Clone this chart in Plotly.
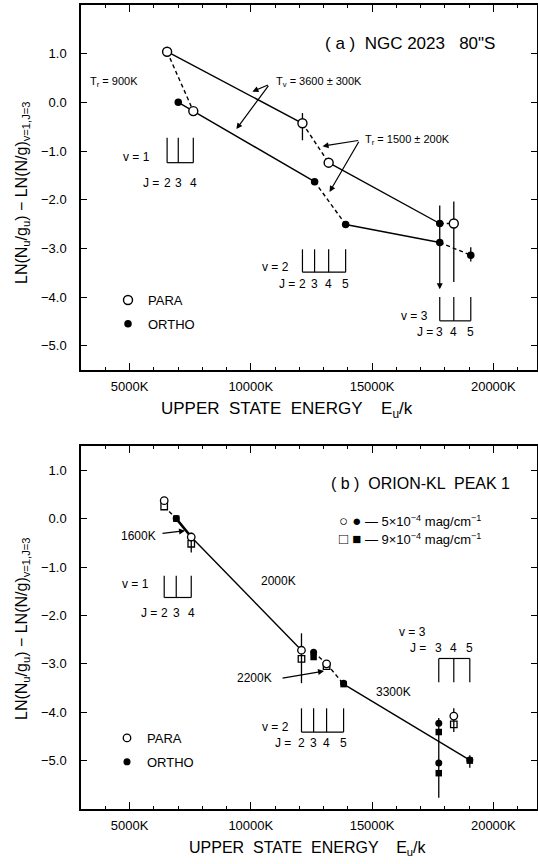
import plotly.graph_objects as go

FONT = "Liberation Sans"

# ---------------- (a) NGC 2023 80"S ----------------
para_a_E = [6550, 7630, 12130, 13210, 18370]
para_a_y = [1.04, -0.18, -0.43, -1.24, -2.49]
para_a_up = [0, 0, 0.21, 0, 0.45]
para_a_dn = [0, 0, 0.35, 0, 1.20]

ortho_a_E = [7010, 12630, 13910, 17790, 17790, 19070]
ortho_a_y = [0.00, -1.63, -2.51, -2.49, -2.88, -3.14]
ortho_a_up = [0, 0.05, 0.05, 0.37, 0, 0.16]
ortho_a_dn = [0, 0.05, 0.05, 0.39, 0, 0.13]
ortho_a_limit = -3.84          # lower end of the v=3, J=3 upper limit

# ---------------- (b) Orion-KL Peak 1 ----------------
para_b_E = [6430, 7545, 12090, 13125, 18370]
para_b_y5 = [0.37, -0.38, -2.72, -3.00, -4.08]    # 5e-4 mag/cm^-1
para_b_y9 = [0.25, -0.52, -2.90, -3.05, -4.25]    # 9e-4 mag/cm^-1
para_b_up = [0, 0.09, 0.35, 0, 0.16]
para_b_dn = [0, 0.32, 0.68, 0, 0.33]

ortho_b_E = [6926, 12590, 13826, 17750, 17750, 19030]
ortho_b_y5 = [0.00, -2.76, -3.40, -4.23, -5.05, -4.99]
ortho_b_y9 = [0.00, -2.86, -3.42, -4.41, -5.26, -5.00]
ortho_b_up = [0, 0, 0, 0.11, 0, 0.10]
ortho_b_dn = [0, 0, 0, 1.54, 0, 0.16]

J_v1 = ["2", "3", "4"]
J_v2 = ["2", "3", "4", "5"]
J_v3 = ["3", "4", "5"]

y_ticks = [-5, -4, -3, -2, -1, 0, 1]

pts = {
    "pa": (para_a_E, para_a_y), "oa": (ortho_a_E, ortho_a_y),
    "p5": (para_b_E, para_b_y5), "p9": (para_b_E, para_b_y9),
    "o5": (ortho_b_E, ortho_b_y5), "o9": (ortho_b_E, ortho_b_y9),
}

# connections drawn between measured points
solid_a = [(("pa", 0), ("pa", 2)), (("oa", 0), ("oa", 1)),
           (("pa", 3), ("oa", 3)), (("oa", 2), ("oa", 4))]
dashed_a = [(("pa", 0), ("pa", 1)), (("pa", 2), ("pa", 3)), (("oa", 1), ("oa", 2)),
            (("oa", 3), ("pa", 4)), (("oa", 4), ("oa", 5))]
thick_b = [(("o5", 0), ("p5", 1))]
solid_b = [(("p5", 1), ("p5", 2)), (("o9", 2), ("o5", 5))]
dashed_b = [(("p9", 0), ("o5", 0)), (("o5", 1), ("p5", 3)), (("p5", 3), ("o9", 2))]


def point(ref):
    key, i = ref
    xs, ys = pts[key]
    return xs[i], ys[i]


def seg_trace(segs, dash, width, xa, ya):
    xs, ys = [], []
    for a, b in segs:
        (x0, y0), (x1, y1) = point(a), point(b)
        xs += [x0, x1, None]
        ys += [y0, y1, None]
    return go.Scatter(x=xs, y=ys, mode="lines", xaxis=xa, yaxis=ya,
                      line=dict(color="black", width=width, dash=dash),
                      showlegend=False, hoverinfo="skip")


def err(up, dn):
    return dict(type="data", symmetric=False, array=up, arrayminus=dn,
                color="black", thickness=1.3, width=0)


fig = go.Figure()

# panel (a)
fig.add_trace(seg_trace(solid_a, "solid", 1.4, "x", "y"))
fig.add_trace(seg_trace(dashed_a, "4px,3px", 1.4, "x", "y"))
fig.add_trace(go.Scatter(x=para_a_E, y=para_a_y, mode="markers", name="PARA",
                         legend="legend", legendgroup="pa", error_y=err(para_a_up, para_a_dn),
                         marker=dict(symbol="circle", size=9, color="white",
                                     line=dict(color="black", width=1.4))))
fig.add_trace(go.Scatter(x=ortho_a_E, y=ortho_a_y, mode="markers", name="ORTHO",
                         legend="legend", legendgroup="oa", error_y=err(ortho_a_up, ortho_a_dn),
                         marker=dict(symbol="circle", size=7.5, color="black")))

# panel (b)
fig.add_trace(seg_trace(thick_b, "solid", 2.6, "x2", "y2"))
fig.add_trace(seg_trace(solid_b, "solid", 1.4, "x2", "y2"))
fig.add_trace(seg_trace(dashed_b, "4px,3px", 1.4, "x2", "y2"))
fig.add_trace(go.Scatter(x=para_b_E, y=para_b_y9, mode="markers", xaxis="x2", yaxis="y2",
                         showlegend=False,
                         marker=dict(symbol="square", size=6.5, color="white",
                                     line=dict(color="black", width=1.3))))
fig.add_trace(go.Scatter(x=para_b_E, y=para_b_y5, mode="markers", xaxis="x2", yaxis="y2",
                         name="PARA", legend="legend2", legendgroup="pb",
                         error_y=err(para_b_up, para_b_dn),
                         marker=dict(symbol="circle", size=7.5, color="white",
                                     line=dict(color="black", width=1.3))))
fig.add_trace(go.Scatter(x=ortho_b_E, y=ortho_b_y9, mode="markers", xaxis="x2", yaxis="y2",
                         showlegend=False,
                         marker=dict(symbol="square", size=6.5, color="black")))
fig.add_trace(go.Scatter(x=ortho_b_E, y=ortho_b_y5, mode="markers", xaxis="x2", yaxis="y2",
                         name="ORTHO", legend="legend2", legendgroup="ob",
                         error_y=err(ortho_b_up, ortho_b_dn),
                         marker=dict(symbol="circle", size=7, color="black")))

# ---- level brackets ----
shapes = []
ann = []


def bracket(levels, labels, vname, y_top, y_bot, base_top, v_pos, j_pos, xr, yr):
    for e in levels:
        shapes.append(dict(type="line", xref=xr, yref=yr, x0=e, x1=e, y0=y_top, y1=y_bot,
                           line=dict(color="black", width=1.2)))
    yb = y_top if base_top else y_bot
    shapes.append(dict(type="line", xref=xr, yref=yr, x0=levels[0], x1=levels[-1],
                       y0=yb, y1=yb, line=dict(color="black", width=1.2)))
    ann.append(dict(xref=xr, yref=yr, x=v_pos[0], y=v_pos[1], text=f"v = {vname}",
                    xanchor="right", yanchor="middle", showarrow=False,
                    font=dict(size=12, family=FONT)))
    ann.append(dict(xref=xr, yref=yr, x=j_pos[0], y=j_pos[1], text="J =",
                    xanchor="right", yanchor="middle", showarrow=False,
                    font=dict(size=12, family=FONT)))
    for e, t in zip(levels, labels):
        ann.append(dict(xref=xr, yref=yr, x=e, y=j_pos[1], text=t, xanchor="center",
                        yanchor="middle", showarrow=False, font=dict(size=12, family=FONT)))


lev_a1 = [para_a_E[0], ortho_a_E[0], para_a_E[1]]
lev_a2 = [para_a_E[2], ortho_a_E[1], para_a_E[3], ortho_a_E[2]]
lev_a3 = [ortho_a_E[3], para_a_E[4], ortho_a_E[5]]
bracket(lev_a1, J_v1, "1", -0.73, -1.24, False, (5934, -1.12), (6300, -1.65), "x", "y")
bracket(lev_a2, J_v2, "2", -3.02, -3.49, False, (11678, -3.39), (11900, -3.73), "x", "y")
bracket(lev_a3, J_v3, "3", -4.00, -4.49, False, (17380, -4.39), (17580, -4.71), "x", "y")

lev_b1 = [para_b_E[0], ortho_b_E[0], para_b_E[1]]
lev_b2 = [para_b_E[2], ortho_b_E[1], para_b_E[3], ortho_b_E[2]]
lev_b3 = [ortho_b_E[3], para_b_E[4], ortho_b_E[5]]
bracket(lev_b1, J_v1, "1", -1.18, -1.63, False, (5887, -1.36), (6200, -1.96), "x2", "y2")
bracket(lev_b2, J_v2, "2", -3.92, -4.41, False, (11660, -4.31), (11760, -4.64), "x2", "y2")
bracket(lev_b3, J_v3, "3", -2.89, -3.38, True, (17310, -2.35), (17300, -2.68), "x2", "y2")


def text(xr, yr, x, y, t, anchor="left", size=12):
    ann.append(dict(xref=xr, yref=yr, x=x, y=y, text=t, xanchor=anchor, yanchor="middle",
                    showarrow=False, font=dict(size=size, family=FONT)))


def arrow(xr, yr, tail, head, style=2):
    ann.append(dict(xref=xr, yref=yr, axref=xr, ayref=yr, x=head[0], y=head[1],
                    ax=tail[0], ay=tail[1], text="", showarrow=True, arrowhead=style,
                    arrowsize=1, arrowwidth=1.2, arrowcolor="black"))


# panel (a) labels
text("x", "y", 12959, 1.20, "( a )  NGC 2023   80\"S", size=17)
text("x", "y", 3290, 0.41, "T<sub>r</sub> = 900K", size=11)
text("x", "y", 10975, 0.41, "T<sub>v</sub> = 3600 ± 300K", size=11)
text("x", "y", 14612, -0.78, "T<sub>r</sub> = 1500 ± 200K", size=11)
arrow("x", "y", (10770, 0.37), (10066, 0.22))
arrow("x", "y", (10770, 0.37), (9405, -0.55))
arrow("x", "y", (14488, -0.78), (12959, -0.90))
arrow("x", "y", (14488, -0.78), (13248, -1.84))
arrow("x", "y", (ortho_a_E[4], ortho_a_y[4]), (ortho_a_E[4], ortho_a_limit))

# panel (b) labels
text("x2", "y2", 13226, 0.72, "( b )  ORION-KL  PEAK 1", size=16)
text("x2", "y2", 6175, -0.35, "1600K", anchor="right")
arrow("x2", "y2", (6299, -0.31), (7289, -0.25))
text("x2", "y2", 10340, -1.28, "2000K")
text("x2", "y2", 10959, -3.30, "2200K", anchor="right")
arrow("x2", "y2", (11247, -3.30), (13020, -3.15))
text("x2", "y2", 15080, -3.59, "3300K")

sym = "<span style='font-size:15px'>{}</span>"
ann.append(dict(xref="paper", yref="paper", x=337 / 538, y=1 - 520 / 864,
                text=sym.format("○ ●") + " — 5×10<sup>−4</sup> mag/cm<sup>−1</sup>",
                xanchor="left", yanchor="middle", showarrow=False,
                font=dict(size=13, family=FONT)))
ann.append(dict(xref="paper", yref="paper", x=337 / 538, y=1 - 538 / 864,
                text=sym.format("□ ■") + " — 9×10<sup>−4</sup> mag/cm<sup>−1</sup>",
                xanchor="left", yanchor="middle", showarrow=False,
                font=dict(size=13, family=FONT)))

# axis titles
ytitle = "LN(N<sub>u</sub>/g<sub>u</sub>) − LN(N/g)<sub>v=1,J=3</sub>"
xtitle = "UPPER  STATE  ENERGY    E<sub>u</sub>/k"
for yc in (1 - 193 / 864, 1 - 629 / 864):
    ann.append(dict(xref="paper", yref="paper", x=22 / 538, y=yc, text=ytitle,
                    textangle=-90, showarrow=False, xanchor="center", yanchor="middle",
                    font=dict(size=16, family=FONT)))
ann.append(dict(xref="paper", yref="paper", x=287 / 538, y=1 - 410 / 864, text=xtitle,
                showarrow=False, xanchor="center", yanchor="middle",
                font=dict(size=17, family=FONT)))
ann.append(dict(xref="paper", yref="paper", x=308 / 538, y=1 - 848 / 864, text=xtitle,
                showarrow=False, xanchor="center", yanchor="middle",
                font=dict(size=16, family=FONT)))

xdom = [81 / 538, 537 / 538]
xcommon = dict(domain=xdom, range=[3000, 21800], tick0=0, dtick=5000, tickformat="d",
               ticksuffix="K", ticks="inside", ticklen=7, tickwidth=1.3, tickcolor="black",
               minor=dict(tickmode="linear", tick0=0, dtick=1000, ticks="inside",
                          ticklen=3.5, tickwidth=1, tickcolor="black"),
               showline=True, linewidth=1.5, linecolor="black", mirror="allticks",
               showgrid=False, zeroline=False, tickfont=dict(size=13, family=FONT),
               ticklabelstandoff=4)
ycommon = dict(tickmode="array", tickvals=y_ticks, tickformat=".1f", ticks="inside",
               ticklen=6, tickwidth=1.3, tickcolor="black", showline=True, linewidth=1.5,
               linecolor="black", mirror="allticks", showgrid=False, zeroline=False,
               tickfont=dict(size=13, family=FONT), ticklabelstandoff=10)

legend_style = dict(xanchor="left", yanchor="top", bgcolor="rgba(0,0,0,0)",
                    font=dict(size=13, family=FONT, color="black"), itemwidth=30,
                    tracegroupgap=4)

fig.update_layout(
    width=538, height=864,
    margin=dict(l=0, r=0, t=0, b=0),
    paper_bgcolor="white", plot_bgcolor="white",
    font=dict(family=FONT, color="black"),
    xaxis=dict(anchor="y", **xcommon),
    yaxis=dict(anchor="x", domain=[1 - 370 / 864, 1 - 5 / 864], range=[-5.5, 2.0], **ycommon),
    xaxis2=dict(anchor="y2", **xcommon),
    yaxis2=dict(anchor="x2", domain=[1 - 809 / 864, 1 - 446 / 864], range=[-6.0, 1.5], **ycommon),
    legend=dict(x=108 / 538, y=1 - 285 / 864, **legend_style),
    legend2=dict(x=107 / 538, y=1 - 723 / 864, **legend_style),
    shapes=shapes,
    annotations=ann,
)

fig.write_html("out.html")
